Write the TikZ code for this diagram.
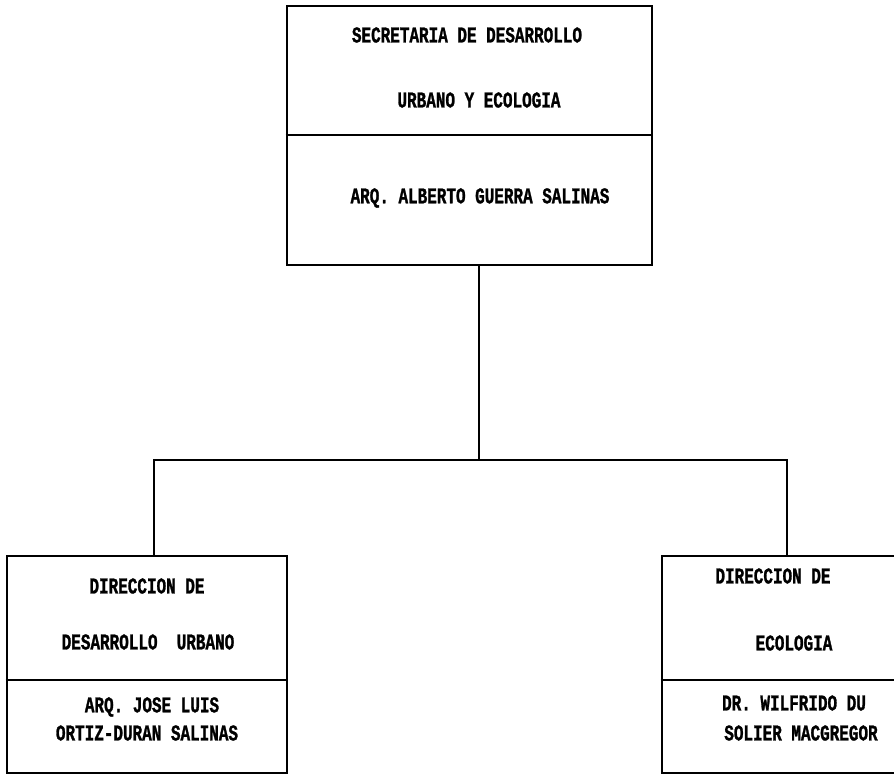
\documentclass[tikz,border=0pt]{standalone}
\usepackage{fontspec}
\usepackage{tikz}
\usetikzlibrary{calc, positioning}
\newfontfamily\printfont[FakeStretch=0.71, FakeBold=1.2]{Liberation Mono}

\tikzset{
    unitbox/.style={draw, line width=1.9pt, inner sep=0pt},
    lbl/.style={font=\printfont\bfseries\fontsize{16}{18}\selectfont, inner sep=0pt},
    wire/.style={line width=1.9pt}
}

\begin{document}
\begin{tikzpicture}[x=0.025cm, y=-0.025cm]
        % frame of the page
        \clip (0,0) rectangle (894,775);
        \useasboundingbox (0,0) rectangle (894,775);

        % Secretaria box
        \node[unitbox, minimum width=9.125cm, minimum height=6.475cm] (sedue) at (469.5,135.5) {};
        \draw[wire] (sedue.west |- 0,135) -- (sedue.east |- 0,135);
        \node[lbl] (sedue1) at (467,35) {SECRETARIA DE DESARROLLO};
        \node[lbl] (sedue2) at (479,100) {URBANO Y ECOLOGIA};
        \node[lbl] (sedue3) at (480,198) {ARQ. ALBERTO GUERRA SALINAS};

        % Desarrollo urbano box
        \node[unitbox, minimum width=7cm, minimum height=5.425cm] (durb) at (147,664.5) {};
        \draw[wire] (durb.west |- 0,680) -- (durb.east |- 0,680);
        \node[lbl] (durb1) at (147,586) {DIRECCION DE};
        \node[lbl] (durb2) at (148,642) {DESARROLLO~~URBANO};
        \node[lbl] (durb3) at (152,707) {ARQ. JOSE LUIS};
        \node[lbl] (durb4) at (147,733) {ORTIZ-DURAN SALINAS};

        % Ecologia box (runs off the right edge)
        \node[unitbox, minimum width=6.6cm, minimum height=5.425cm] (ecol) at (794,664.5) {};
        \draw[wire] (ecol.west |- 0,680) -- (ecol.east |- 0,680);
        \node[lbl] (ecol1) at (773,576) {DIRECCION DE};
        \node[lbl] (ecol2) at (794,643) {ECOLOGIA};
        \node[lbl] (ecol3) at (794,703) {DR. WILFRIDO DU};
        \node[lbl] (ecol4) at (801,733) {SOLIER MACGREGOR};

        % connectors
        \coordinate (join) at (479,460);
        \coordinate (lft) at (154,460);
        \coordinate (rgt) at (787,460);
        \draw[wire] (sedue.south -| join) -- (join);
        \draw[wire] (durb.north -| lft) -- (lft) -- (rgt) -- (ecol.north -| rgt);
\end{tikzpicture}
\end{document}
